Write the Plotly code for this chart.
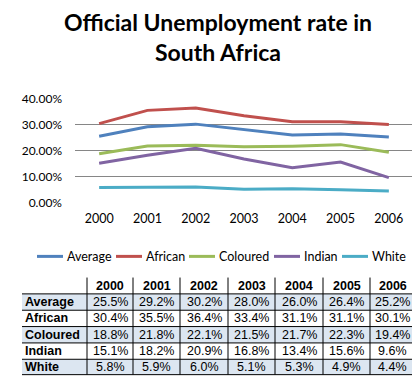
import plotly.graph_objects as go

years = ["2000", "2001", "2002", "2003", "2004", "2005", "2006"]
series_names = ["Average", "African", "Coloured", "Indian", "White"]
average = [25.5, 29.2, 30.2, 28.0, 26.0, 26.4, 25.2]
african = [30.4, 35.5, 36.4, 33.4, 31.1, 31.1, 30.1]
coloured = [18.8, 21.8, 22.1, 21.5, 21.7, 22.3, 19.4]
indian = [15.1, 18.2, 20.9, 16.8, 13.4, 15.6, 9.6]
white = [5.8, 5.9, 6.0, 5.1, 5.3, 4.9, 4.4]
colors = ["#4F81BD", "#C0504D", "#9BBB59", "#8064A2", "#4BACC6"]

W, H = 420, 390
def px(x):
    return x / W
def py(y):
    return 1 - y / H

all_series = [average, african, coloured, indian, white]

fig = go.Figure()
for name, vals, c in zip(series_names, all_series, colors):
    fig.add_trace(go.Scatter(
        x=years, y=[v / 100 for v in vals], name=name, mode="lines",
        line=dict(color=c, width=3), hoverinfo="x+y+name", showlegend=False))

chart_font = "Lato, 'Open Sans', sans-serif"
table_font = "'Liberation Sans', Arial, sans-serif"

fig.update_layout(
    width=W, height=H,
    margin=dict(l=0, r=0, t=0, b=0),
    paper_bgcolor="white", plot_bgcolor="white",
    title=dict(text="<b>Official Unemployment rate in<br>South Africa</b>",
               x=0.5, xanchor="center", y=py(23), yanchor="middle",
               font=dict(family=chart_font, size=23, color="black")),
    xaxis=dict(type="category", range=[-0.5, 6.5], domain=[px(67), px(405)],
               showgrid=False, showline=False, zeroline=False, ticks="",
               tickfont=dict(family=chart_font, size=12.5, color="black"),
               ticklabelstandoff=7),
    yaxis=dict(range=[0, 0.4], domain=[py(194), py(86)], dtick=0.1,
               tickformat=".2%", showgrid=True, gridcolor="#868686", gridwidth=1,
               zeroline=False, showline=False, ticks="",
               tickfont=dict(family=chart_font, size=12, color="black"),
               ticklabelstandoff=12),
    showlegend=False,
)

shapes = []
annotations = []

# ---- custom legend ----
legend_line_x = [29, 108, 181, 266, 334]
legend_y = 250
for name, c, lx in zip(series_names, colors, legend_line_x):
    shapes.append(dict(type="line", xref="paper", yref="paper",
                       x0=px(lx), x1=px(lx + 26), y0=py(legend_y), y1=py(legend_y),
                       line=dict(color=c, width=3)))
    annotations.append(dict(x=px(lx + 28), y=py(legend_y), xref="paper", yref="paper",
                            text=name, showarrow=False, xanchor="left", yanchor="middle",
                            font=dict(family=chart_font, size=12.5, color="black")))

# ---- data table ----
col_edges = [14, 79, 125, 172, 220, 267, 315, 362, 407]
row_edges = [272, 289, 306, 323, 340, 357, 373]
shade = "#DCE6F1"

for i, name in enumerate(series_names):
    y0, y1 = row_edges[i + 1], row_edges[i + 2]
    if i % 2 == 0:
        shapes.append(dict(type="rect", xref="paper", yref="paper",
                           x0=px(col_edges[0]), x1=px(col_edges[-1]),
                           y0=py(y1), y1=py(y0), fillcolor=shade,
                           line=dict(width=0), layer="below"))
for y in row_edges[1:]:
    shapes.append(dict(type="line", xref="paper", yref="paper",
                       x0=px(col_edges[0]), x1=px(col_edges[-1]),
                       y0=py(y), y1=py(y), line=dict(color="black", width=1)))
for x in col_edges[1:-1]:
    shapes.append(dict(type="line", xref="paper", yref="paper",
                       x0=px(x), x1=px(x), y0=py(row_edges[0]), y1=py(row_edges[-1]),
                       line=dict(color="black", width=1)))

for k, yr in enumerate(years):
    xc = (col_edges[k + 1] + col_edges[k + 2]) / 2
    yc = (row_edges[0] + row_edges[1]) / 2
    annotations.append(dict(x=px(xc), y=py(yc), xref="paper", yref="paper",
                            text="<b>%s</b>" % yr, showarrow=False,
                            xanchor="center", yanchor="middle",
                            font=dict(family=table_font, size=12.5, color="black")))
for i, (name, vals) in enumerate(zip(series_names, all_series)):
    yc = (row_edges[i + 1] + row_edges[i + 2]) / 2
    annotations.append(dict(x=px(col_edges[0] + 1), y=py(yc), xref="paper", yref="paper",
                            text="<b>%s</b>" % name, showarrow=False,
                            xanchor="left", yanchor="middle",
                            font=dict(family=table_font, size=12.5, color="black")))
    for k, v in enumerate(vals):
        xc = (col_edges[k + 1] + col_edges[k + 2]) / 2
        annotations.append(dict(x=px(xc), y=py(yc), xref="paper", yref="paper",
                                text="%.1f%%" % v, showarrow=False,
                                xanchor="center", yanchor="middle",
                                font=dict(family=table_font, size=12.5, color="black")))

fig.update_layout(shapes=shapes, annotations=annotations)
fig.write_html("out.html")
